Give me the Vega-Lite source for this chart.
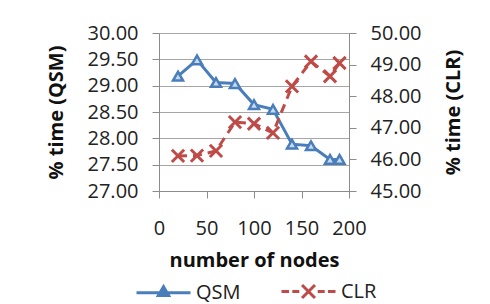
{
  "$schema": "https://vega.github.io/schema/vega-lite/v6.json",
  "width": 190,
  "height": 158,
  "autosize": {"type": "none"},
  "padding": {"left": 159, "top": 33, "right": 141, "bottom": 113},
  "background": "white",
  "config": {
    "font": "Open Sans",
    "view": {"stroke": null},
    "axis": {
      "labelFont": "Open Sans",
      "labelFontSize": 20,
      "labelColor": "#222222",
      "titleFont": "Open Sans",
      "titleFontSize": 20,
      "titleFontWeight": "bold",
      "titleColor": "#111111",
      "domainColor": "#8c8c8c",
      "tickColor": "#8c8c8c",
      "gridColor": "#a6a6a6",
      "domainWidth": 1,
      "tickSize": 7,
      "labelPadding": 14
    }
  },
  "data": {
    "values": [
      {"nodes": 20, "series": "QSM", "value": 29.18},
      {"nodes": 40, "series": "QSM", "value": 29.49},
      {"nodes": 60, "series": "QSM", "value": 29.06},
      {"nodes": 80, "series": "QSM", "value": 29.04},
      {"nodes": 100, "series": "QSM", "value": 28.64},
      {"nodes": 120, "series": "QSM", "value": 28.55},
      {"nodes": 140, "series": "QSM", "value": 27.89},
      {"nodes": 160, "series": "QSM", "value": 27.86},
      {"nodes": 180, "series": "QSM", "value": 27.6},
      {"nodes": 190, "series": "QSM", "value": 27.6},
      {"nodes": 20, "series": "CLR", "value": 46.11},
      {"nodes": 40, "series": "CLR", "value": 46.12},
      {"nodes": 60, "series": "CLR", "value": 46.27},
      {"nodes": 80, "series": "CLR", "value": 47.18},
      {"nodes": 100, "series": "CLR", "value": 47.13},
      {"nodes": 120, "series": "CLR", "value": 46.84},
      {"nodes": 140, "series": "CLR", "value": 48.31},
      {"nodes": 160, "series": "CLR", "value": 49.1},
      {"nodes": 180, "series": "CLR", "value": 48.63},
      {"nodes": 190, "series": "CLR", "value": 49.05}
    ]
  },
  "encoding": {
    "x": {
      "field": "nodes",
      "type": "quantitative",
      "scale": {"domain": [0, 200], "nice": false, "zero": false},
      "axis": {
        "title": "number of nodes",
        "values": [0, 50, 100, 150, 200],
        "grid": false,
        "labelPadding": 20,
        "titlePadding": 12,
        "labelFlush": false
      }
    },
    "color": {
      "field": "series",
      "type": "nominal",
      "scale": {"domain": ["QSM", "CLR"], "range": ["#4a7ebb", "#be4b48"]},
      "legend": {
        "title": null,
        "orient": "none",
        "direction": "horizontal",
        "legendX": -24,
        "legendY": 230,
        "padding": 0,
        "labelFont": "Open Sans",
        "labelFontSize": 20,
        "labelColor": "#222222",
        "labelOffset": 4,
        "columnPadding": 34,
        "symbolSize": 2916,
        "symbolStrokeWidth": 3,
        "encode": {
          "symbols": {
            "update": {
              "shape": {"signal": "datum.value === 'QSM' ? 'M-1,0H-0.17M0.17,0H1M-0.19,0.1L0,-0.22L0.19,0.1Z' : 'M-1,0H-0.72M-0.6,0H-0.34M0.34,0H0.6M0.72,0H1M-0.24,-0.24L0.24,0.24M0.24,-0.24L-0.24,0.24'"},
              "fill": {"signal": "datum.value === 'QSM' ? '#c6d9f1' : 'transparent'"},
              "stroke": {"signal": "datum.value === 'QSM' ? '#4a7ebb' : '#be4b48'"},
              "strokeWidth": {"value": 3},
              "strokeDash": {"value": []},
              "opacity": {"value": 1}
            }
          }
        }
      }
    }
  },
  "layer": [
    {
      "transform": [{"filter": "datum.series === 'QSM'"}],
      "encoding": {
        "y": {
          "field": "value",
          "type": "quantitative",
          "scale": {"domain": [27, 30], "nice": false, "zero": false},
          "axis": {
            "title": "% time (QSM)",
            "orient": "left",
            "values": [27, 27.5, 28, 28.5, 29, 29.5, 30],
            "format": ".2f",
            "grid": true,
            "titlePadding": 21
          }
        }
      },
      "layer": [
        {"mark": {"type": "line", "strokeWidth": 3}},
        {"mark": {"type": "point", "shape": "triangle-up", "size": 100, "filled": true, "fill": "#c6d9f1", "stroke": "#4a7ebb", "strokeWidth": 2.5, "opacity": 1}}
      ]
    },
    {
      "transform": [{"filter": "datum.series === 'CLR'"}],
      "encoding": {
        "y": {
          "field": "value",
          "type": "quantitative",
          "scale": {"domain": [45, 50], "nice": false, "zero": false},
          "axis": {
            "title": "% time (CLR)",
            "orient": "right",
            "values": [45, 46, 47, 48, 49, 50],
            "format": ".2f",
            "grid": false,
            "titleAngle": 270,
            "titlePadding": 43
          }
        }
      },
      "layer": [
        {"mark": {"type": "line", "strokeWidth": 3, "strokeDash": [9, 6]}},
        {"mark": {"type": "point", "shape": "M-1,-1L1,1M1,-1L-1,1", "size": 150, "filled": false, "strokeWidth": 3, "opacity": 1}}
      ]
    }
  ],
  "resolve": {"scale": {"y": "independent"}}
}
